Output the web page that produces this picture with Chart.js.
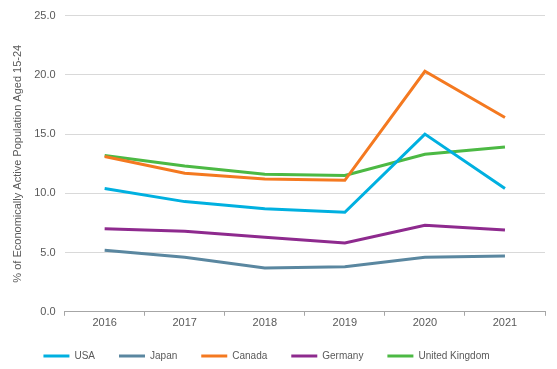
<!DOCTYPE html>
<html>
<head>
<meta charset="utf-8">
<script src="https://cdn.jsdelivr.net/npm/chart.js@4/dist/chart.umd.min.js"></script>
<style>
  html, body { margin: 0; padding: 0; background: #fff; }
  #wrap { width: 557px; height: 369px; position: relative; }
</style>
</head>
<body>
<div id="wrap"><canvas id="chart"></canvas></div>
<script>
const years = ["2016", "2017", "2018", "2019", "2020", "2021"];
const usa = [10.4, 9.3, 8.7, 8.4, 15.0, 10.4];
const japan = [5.2, 4.6, 3.7, 3.8, 4.6, 4.7];
const canada = [13.1, 11.7, 11.2, 11.1, 20.3, 16.4];
const germany = [7.0, 6.8, 6.3, 5.8, 7.3, 6.9];
const uk = [13.2, 12.3, 11.6, 11.5, 13.3, 13.9];
const yTicks = [0, 5, 10, 15, 20, 25];

const grey = "#595959";
Chart.defaults.font.family = "'Liberation Sans', Arial, sans-serif";
Chart.defaults.font.size = 11;
Chart.defaults.color = grey;

function series(label, data, color) {
    return {
        label: label,
        data: data,
        borderColor: color,
        backgroundColor: color,
        borderWidth: 3,
        pointRadius: 0,
        tension: 0,
        fill: false
    };
}

// squeeze the legend box and nudge it a bit left, like the original
const legendTweak = {
    id: "legendTweak",
    afterInit(chart) {
        const lg = chart.legend;
        const fit = lg.fit.bind(lg);
        lg.fit = function () {
            fit();
            this.height = 38;
        };
    },
    afterLayout(chart) {
        const lg = chart.legend;
        lg.left -= 9;
        lg.right -= 9;
        lg.top = chart.height - 42;
    }
};

new Chart(document.getElementById("chart"), {
    type: "line",
    data: {
        labels: years,
        datasets: [
            series("USA", usa, "#00b0e0"),
            series("Japan", japan, "#5a87a0"),
            series("Canada", canada, "#f47920"),
            series("Germany", germany, "#8e2a8e"),
            series("United Kingdom", uk, "#4cb944")
        ]
    },
    plugins: [legendTweak],
    options: {
        responsive: true,
        maintainAspectRatio: false,
        animation: false,
        layout: { padding: { top: 7, right: 12, left: 6, bottom: 0 } },
        plugins: {
            tooltip: { enabled: false },
            legend: {
                position: "bottom",
                labels: {
                    boxWidth: 26,
                    boxHeight: 3,
                    padding: 24,
                    color: grey,
                    font: { size: 10 },
                    generateLabels: chart => chart.data.datasets.map((ds, i) => ({
                        text: ds.label,
                        fillStyle: ds.borderColor,
                        strokeStyle: ds.borderColor,
                        lineWidth: 0,
                        fontColor: grey,
                        datasetIndex: i
                    }))
                }
            }
        },
        scales: {
            x: {
                offset: true,
                grid: {
                    offset: true,
                    drawOnChartArea: false,
                    drawTicks: true,
                    tickLength: 4,
                    color: "#a6a6a6"
                },
                border: { color: "#a6a6a6" },
                ticks: { padding: 1, color: grey }
            },
            y: {
                min: 0,
                max: 25,
                afterBuildTicks: axis => { axis.ticks = yTicks.map(v => ({ value: v })); },
                grid: { color: "#d9d9d9", drawTicks: false },
                border: { display: false },
                ticks: {
                    padding: 9,
                    color: grey,
                    callback: v => Number(v).toFixed(1)
                },
                title: {
                    display: true,
                    text: "% of Economically Active Population Aged 15-24",
                    color: grey,
                    font: { size: 11 },
                    padding: { top: 5, bottom: 1 }
                }
            }
        }
    }
});
</script>
</body>
</html>
